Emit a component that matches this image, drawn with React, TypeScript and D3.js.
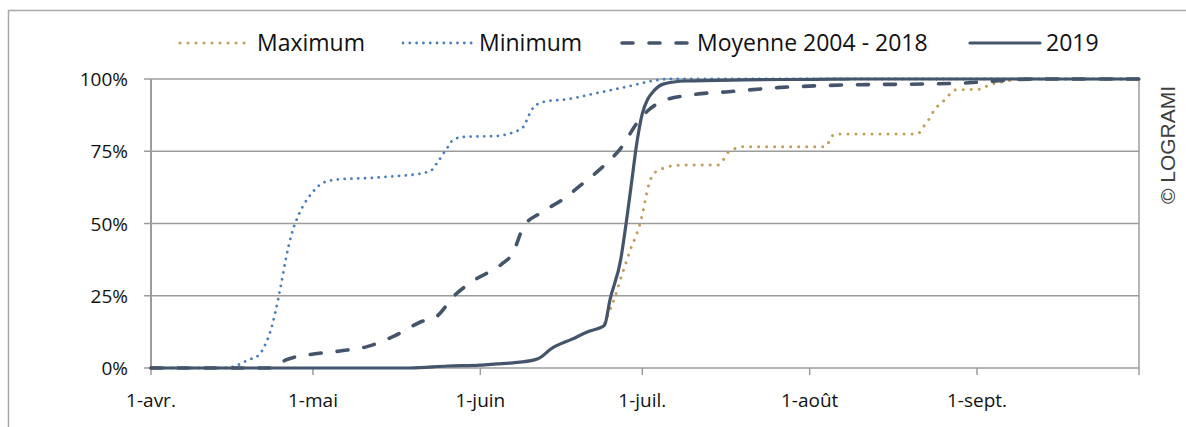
import React from 'react';
import * as d3 from 'd3';

// days counted from 1 April, cumulative percentage of the run
const minimumPts: [number, number][] = [
  [0, 0], [14, 0], [16, 1], [18, 2.8], [20, 4.5], [21, 7.5], [22, 12], [23, 19], [24, 28],
  [25, 38], [26, 46], [27, 51.5], [28, 55.5], [30, 61], [32, 64.2], [35, 65.3], [40, 65.7],
  [46, 66.5], [50, 67.3], [52, 68.5], [53, 71], [55, 76.5], [56, 79], [58, 80], [64, 80.3],
  [67, 81.5], [69, 83.5], [70, 87.5], [71, 90.5], [73, 92.2], [77, 93], [83, 95.3], [89, 97.7],
  [93, 99.4], [96, 100], [183, 100],
];

const maximumPts: [number, number][] = [
  [84, 15.5], [85, 20], [86, 25], [87, 31], [88, 36.5], [89, 42], [90, 46.5], [91, 53],
  [92, 62], [93, 67], [95, 69.2], [98, 70.2], [105, 70.2], [106, 72], [107, 74.8], [110, 76.6],
  [125, 76.6], [126, 80], [127, 81], [142, 81], [143, 83.3], [144, 85.8], [145, 89], [147, 92.7],
  [149, 96.2], [154, 96.5], [155, 97.8], [157, 98.7], [159, 99.5], [161, 100], [183, 100],
];

const moyennePts: [number, number][] = [
  [0, 0], [22, 0], [23, 0.5], [25, 2.8], [29, 4.5], [35, 5.9], [40, 7.4], [45, 11], [50, 16],
  [53, 18], [56, 24.7], [60, 30.5], [65, 36], [67, 39.7], [69, 48.9], [72, 53.5], [76, 58],
  [80, 63.9], [84, 70.2], [87, 76], [90, 84.7], [92, 89], [95, 92.5], [100, 94.5], [107, 95.6],
  [116, 97], [126, 97.8], [149, 98.5], [155, 99.1], [160, 99.8], [165, 100], [183, 100],
];

const y2019Pts: [number, number][] = [
  [0, 0], [48, 0], [55, 0.7], [61, 1], [64, 1.4], [67, 1.8], [71, 2.8], [72, 3.5], [74, 6.5],
  [78, 10], [81, 12.6], [84, 14.8], [85, 23.5], [87, 37.5], [88, 50], [89, 64], [90, 78],
  [91, 88], [92, 93], [93, 95.6], [95, 98.3], [99, 99.3], [110, 99.7], [123, 99.9], [130, 100],
  [183, 100],
];

const monthTicks = ['2019-04-01', '2019-05-01', '2019-06-01', '2019-07-01', '2019-08-01', '2019-09-01', '2019-10-01'];
const monthLabels = ['1-avr.', '1-mai', '1-juin', '1-juil.', '1-août', '1-sept.', ''];
const pctTicks = [0, 25, 50, 75, 100];

const W = 1186;
const H = 427;
const margin = { top: 79, right: 47, bottom: 59, left: 151 };

const start = new Date(2019, 3, 1);
const toDate = (d: number) => d3.timeDay.offset(start, d);
const parse = (s: string) => {
  const [y, m, d] = s.split('-').map(Number);
  return new Date(y, m - 1, d);
};

const x = d3.scaleTime()
  .domain([start, new Date(2019, 9, 1)])
  .range([margin.left, W - margin.right]);

const y = d3.scaleLinear()
  .domain([0, 100])
  .range([H - margin.bottom, margin.top]);

const line = d3.line<[number, number]>()
  .x(d => x(toDate(d[0])))
  .y(d => y(d[1]))
  .curve(d3.curveMonotoneX);

const DARK = '#44546A';
const BLUE = '#4A7EBB';
const GOLD = '#BF9F5A';
const GRID = '#9c9c9c';
const FONT = '"Open Sans", "Noto Sans", sans-serif';

const series = [
  { key: 'max', label: 'Maximum', pts: maximumPts, color: GOLD, width: 3, dash: '0.01 8', cap: 'round', lx: 180, tx: 257 },
  { key: 'min', label: 'Minimum', pts: minimumPts, color: BLUE, width: 2.8, dash: '0.01 6.8', cap: 'round', lx: 403, tx: 479 },
  { key: 'moy', label: 'Moyenne 2004 - 2018', pts: moyennePts, color: DARK, width: 3.6, dash: '11 16', cap: 'round', lx: 622, tx: 697 },
  { key: '2019', label: '2019', pts: y2019Pts, color: DARK, width: 3.2, dash: undefined, cap: 'round', lx: 970, tx: 1046 },
];

export default function App() {
  const x0 = margin.left;
  const x1 = W - margin.right;
  const y0 = H - margin.bottom;
  const legendY = 43;

  return (
    <svg width={W} height={H} style={{ position: 'absolute', left: 0, top: 0, background: '#fff' }}>
      <rect x={8.5} y={10.5} width={W + 20} height={H + 20} fill="#fff" stroke="#a8a8a8" strokeWidth={1.5} />

      {/* gridlines */}
      {pctTicks.map(p => (
        <line key={p} x1={x0 - 7} x2={x1} y1={y(p)} y2={y(p)} stroke={GRID} strokeWidth={1.5} />
      ))}
      <line x1={x0} x2={x0} y1={margin.top} y2={y0} stroke={GRID} strokeWidth={2} />
      <line x1={x1} x2={x1} y1={margin.top} y2={y0} stroke={GRID} strokeWidth={1.5} />

      {/* x ticks */}
      {monthTicks.map((t, i) => (
        <g key={t}>
          <line x1={x(parse(t))} x2={x(parse(t))} y1={y0} y2={y0 + 7} stroke={GRID} strokeWidth={1.5} />
          <text x={x(parse(t))} y={407} textAnchor="middle" fontFamily={FONT} fontSize={19} fill="#111">
            {monthLabels[i]}
          </text>
        </g>
      ))}

      {/* y labels */}
      {pctTicks.map(p => (
        <text key={p} x={128} y={y(p) + 7} textAnchor="end" fontFamily={FONT} fontSize={19} fill="#111">
          {p}%
        </text>
      ))}

      {/* series */}
      {series.map(s => (
        <path key={s.key} d={line(s.pts) ?? ''} fill="none" stroke={s.color} strokeWidth={s.width}
          strokeDasharray={s.dash} strokeLinecap={s.cap as any} strokeLinejoin="round" />
      ))}

      {/* legend */}
      {series.map(s => (
        <g key={s.key}>
          <line x1={s.lx} x2={s.lx + 70} y1={legendY} y2={legendY} stroke={s.color} strokeWidth={s.width}
            strokeDasharray={s.dash} strokeLinecap={s.cap as any} />
          <text x={s.tx} y={legendY + 8} fontFamily={FONT} fontSize={23} fill="#111">{s.label}</text>
        </g>
      ))}

      <text transform={`translate(1167,145) rotate(-90)`} textAnchor="middle" dominantBaseline="central"
        fontFamily='"Liberation Sans", Arial, sans-serif' fontSize={21} fill="#404040">
        © LOGRAMI
      </text>
    </svg>
  );
}
